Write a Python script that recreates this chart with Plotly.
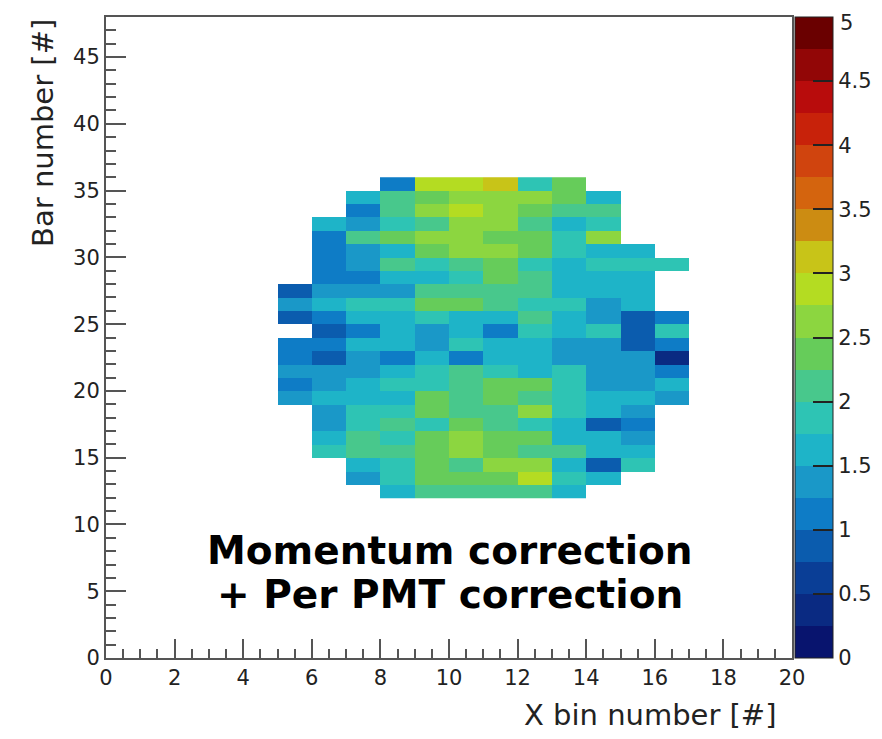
import plotly.graph_objects as go

# ---- data (bin contents) ----
x_edges_lo = list(range(0, 20))
y_rows = list(range(12, 36))

row_12 = [1.6, 2.1, 2.1, 2.1, 2.1, 1.6]
row_13 = [1.4, 1.9, 2.4, 2.4, 2.4, 2.9, 1.9, 1.6]
row_14 = [1.6, 1.9, 2.4, 2.1, 2.6, 2.6, 1.6, 0.9, 1.9]
row_15 = [1.9, 2.1, 2.1, 2.4, 2.6, 2.4, 2.1, 2.1, 1.6, 1.6]
row_16 = [1.6, 2.1, 1.9, 2.4, 2.6, 2.4, 2.4, 1.6, 1.6, 1.4]
row_17 = [1.4, 1.9, 2.1, 1.9, 2.4, 2.1, 1.9, 1.6, 0.9, 1.1]
row_18 = [1.4, 1.9, 1.9, 2.4, 2.1, 2.1, 2.7, 1.9, 1.6, 1.4]
row_19 = [1.4, 1.6, 1.6, 1.6, 2.4, 2.1, 2.4, 2.1, 1.9, 1.6, 1.6, 1.4]
row_20 = [1.1, 1.4, 1.6, 1.9, 1.9, 2.1, 2.4, 2.4, 1.9, 1.4, 1.4, 1.6]
row_21 = [1.4, 1.4, 1.4, 1.6, 1.9, 2.1, 1.9, 1.6, 1.9, 1.4, 1.4, 1.1]
row_22 = [1.1, 0.9, 1.4, 1.1, 1.6, 1.1, 1.6, 1.6, 1.4, 1.4, 1.4, 0.35]
row_23 = [1.1, 1.1, 1.6, 1.6, 1.4, 1.9, 1.6, 1.6, 1.4, 1.4, 0.9, 1.1]
row_24 = [0.9, 1.1, 1.6, 1.4, 1.6, 1.1, 1.9, 1.6, 1.9, 0.9, 1.9]
row_25 = [0.9, 1.1, 1.6, 1.6, 1.9, 1.6, 1.6, 2.1, 1.6, 1.4, 0.9, 1.1]
row_26 = [1.4, 1.6, 1.9, 1.9, 2.4, 2.4, 2.1, 1.9, 1.9, 1.4, 1.6]
row_27 = [0.9, 1.4, 1.4, 1.4, 2.1, 2.1, 2.1, 2.1, 1.6, 1.6, 1.6]
row_28 = [1.1, 1.1, 1.6, 1.6, 1.9, 2.4, 2.1, 1.6, 1.6, 1.6]
row_29 = [1.1, 1.4, 2.1, 1.9, 2.1, 2.4, 1.9, 1.6, 1.9, 1.9, 1.9]
row_30 = [1.1, 1.4, 1.6, 2.4, 2.6, 2.6, 2.4, 1.9, 1.6, 1.6]
row_31 = [1.1, 2.1, 2.4, 2.6, 2.6, 2.4, 2.4, 1.9, 2.6]
row_32 = [1.6, 1.4, 1.9, 2.1, 2.6, 2.6, 2.1, 1.6, 1.9]
row_33 = [1.1, 2.1, 2.6, 2.9, 2.6, 2.4, 2.1, 2.1]
row_34 = [1.6, 2.1, 2.4, 2.6, 2.6, 2.6, 2.4, 1.6]
row_35 = [1.1, 2.9, 2.9, 3.1, 1.9, 2.4]

row_first_x = [8, 7, 7, 6, 6, 6, 6, 5, 5, 5, 5, 5, 6, 5, 5, 5, 6, 6, 6, 6, 6, 7, 7, 8]
rows = [row_12, row_13, row_14, row_15, row_16, row_17, row_18, row_19, row_20,
        row_21, row_22, row_23, row_24, row_25, row_26, row_27, row_28, row_29,
        row_30, row_31, row_32, row_33, row_34, row_35]

x_ticks = [0, 2, 4, 6, 8, 10, 12, 14, 16, 18, 20]
y_ticks = [0, 5, 10, 15, 20, 25, 30, 35, 40, 45]
z_ticks = [0, 0.5, 1, 1.5, 2, 2.5, 3, 3.5, 4, 4.5, 5]

palette = ["#08146e", "#0a2a82", "#0a3e96", "#0b5cae", "#0e7cc6", "#1a98c8",
           "#1eb4c8", "#2ec4b4", "#48c88c", "#66cc5a", "#8cd640", "#b4dc22",
           "#c8c418", "#cc8c12", "#d4640e", "#d0440e", "#c8220a", "#b80c0c",
           "#920606", "#6a0000"]

# ---- build grid ----
z = []
for first, vals in zip(row_first_x, rows):
    line = [None] * len(x_edges_lo)
    for i, v in enumerate(vals):
        line[first + i] = v
    z.append(line)
x_centers = [x + 0.5 for x in x_edges_lo]
y_centers = [y + 0.5 for y in y_rows]

n = len(palette)
colorscale = []
for i, c in enumerate(palette):
    colorscale.append([i / n, c])
    colorscale.append([(i + 1) / n, c])

FONT = "DejaVu Sans, Liberation Sans, Arial, sans-serif"
TICK = 21

fig = go.Figure(go.Heatmap(
    x=x_centers, y=y_centers, z=z, zmin=0, zmax=5,
    colorscale=colorscale, hoverongaps=False, xgap=0, ygap=0,
    colorbar=dict(
        x=1.0045, xanchor="left", xpad=0, y=0, yanchor="bottom", ypad=0,
        len=1, lenmode="fraction", thickness=38, thicknessmode="pixels",
        outlinewidth=1, outlinecolor="#222",
        tickvals=z_ticks[:-1], ticktext=[("%g" % t) for t in z_ticks[:-1]],
        ticks="inside", ticklen=20, tickwidth=2, tickcolor="#222",
        tickfont=dict(family=FONT, size=TICK, color="#222"),
    ),
))

fig.update_layout(
    width=874, height=731,
    margin=dict(l=98, r=90, t=9, b=81, autoexpand=False),
    paper_bgcolor="white", plot_bgcolor="white",
    font=dict(family=FONT, color="#222"),
    showlegend=False,
    xaxis=dict(
        range=[0, 20], tickvals=x_ticks, ticktext=[str(t) for t in x_ticks],
        ticks="inside", ticklen=19, tickwidth=2, tickcolor="#555",
        minor=dict(dtick=0.5, tick0=0, ticks="inside", ticklen=9, tickwidth=2, tickcolor="#555"),
        showline=True, linecolor="#555", linewidth=2, mirror=True,
        showgrid=False, zeroline=False,
        tickfont=dict(family=FONT, size=TICK, color="#222"),
    ),
    yaxis=dict(
        range=[0, 48], tickvals=y_ticks, ticktext=[str(t) for t in y_ticks],
        ticks="inside", ticklen=20, tickwidth=2, tickcolor="#555",
        minor=dict(dtick=1, tick0=0, ticks="inside", ticklen=10, tickwidth=2, tickcolor="#555"),
        showline=True, linecolor="#555", linewidth=2, mirror=True,
        showgrid=False, zeroline=False,
        tickfont=dict(family=FONT, size=TICK, color="#222"),
    ),
    annotations=[
        dict(text="%g" % z_ticks[-1], xref="paper", yref="paper", x=1.067, y=1.013,
             xanchor="left", yanchor="top", showarrow=False,
             font=dict(family=FONT, size=TICK, color="#222")),
        dict(text="X bin number [#]", xref="paper", yref="paper", x=0.98, y=-0.089,
             xanchor="right", yanchor="middle", showarrow=False,
             font=dict(family=FONT, size=29, color="#222")),
        dict(text="Bar number [#]", xref="paper", yref="paper", x=-0.092, y=1.0,
             xanchor="center", yanchor="top", textangle=-90, showarrow=False,
             font=dict(family=FONT, size=29, color="#222")),
        dict(text="<b>Momentum correction</b>", xref="paper", yref="paper", x=0.5015, y=0.168,
             xanchor="center", yanchor="middle", showarrow=False,
             font=dict(family=FONT, size=39, color="black")),
        dict(text="<b>+ Per PMT correction</b>", xref="paper", yref="paper", x=0.5015, y=0.099,
             xanchor="center", yanchor="middle", showarrow=False,
             font=dict(family=FONT, size=39, color="black")),
    ],
)

fig.write_html("out.html")
